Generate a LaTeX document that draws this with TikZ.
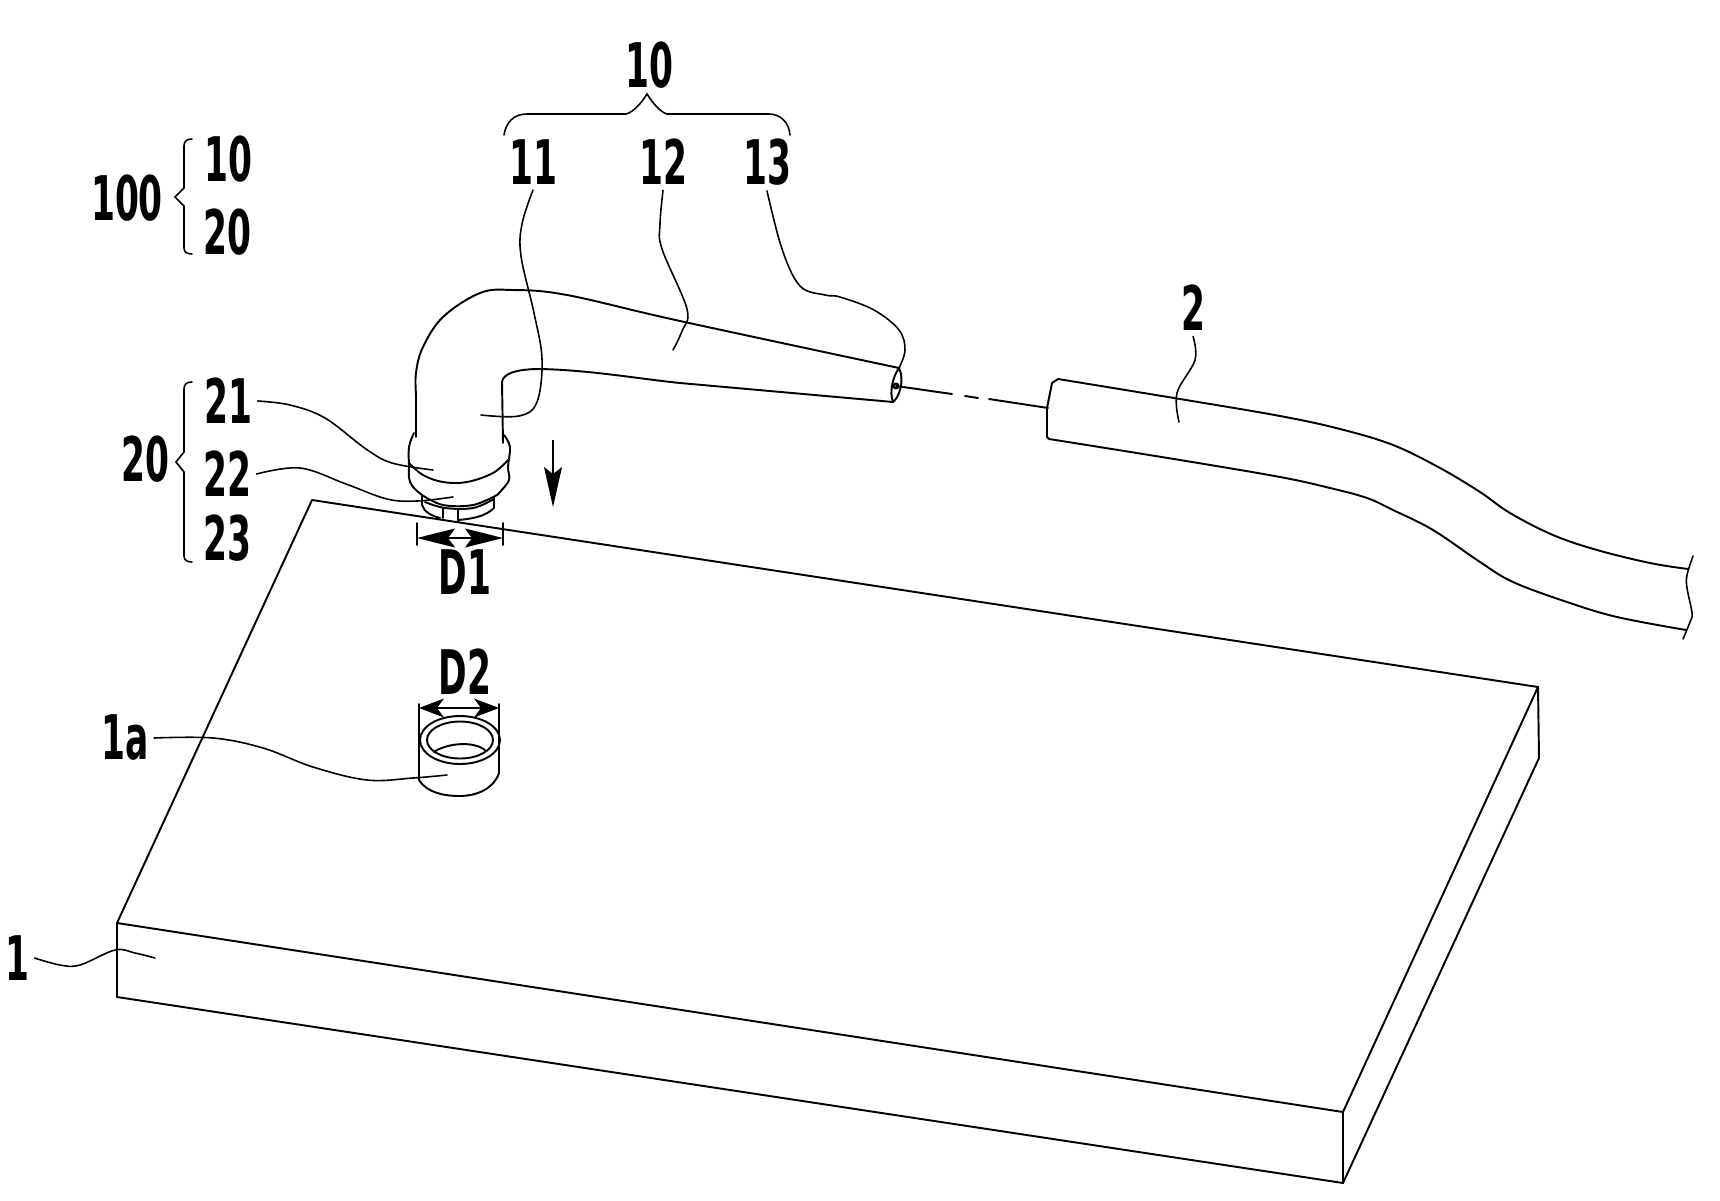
\documentclass[tikz,border=0pt]{standalone}
\usepackage{fontspec}
\setmainfont{DejaVu Sans}[FakeStretch=0.56]
\usetikzlibrary{arrows.meta}
\tikzset{
	part/.style={line width=1.1pt, line join=round, line cap=round},
	leader/.style={line width=0.9pt, line cap=round},
	partlabel/.style={inner sep=3pt, font=\fontsize{35}{35}\selectfont\bfseries},
	dimhead/.style={{Stealth[length=#1, width=0.38cm, inset=0.14cm]}-{Stealth[length=#1, width=0.38cm, inset=0.14cm]}, line width=0.9pt}
}
\newcommand{\drawleader}[2]{   % label node, points of the curve
	\draw[leader] plot[smooth, tension=0.6] coordinates {(#1) #2};
}
\begin{document}
\begin{tikzpicture}[x=0.02cm, y=-0.02cm]
\useasboundingbox (0, 0) rectangle (1720, 1200);

% labels
\node[partlabel] (topten) at (649, 65) {10};
\node[partlabel] (labeleleven) at (533, 162) {11};
\node[partlabel] (labeltwelve) at (663, 162) {12};
\node[partlabel] (labelthirteen) at (767, 162) {13};
\node[partlabel] (labelhundred) at (127, 198) {100};
\node[partlabel] (sideten) at (228, 159) {10};
\node[partlabel] (sidetwenty) at (227, 232) {20};
\node[partlabel] (grouptwenty) at (145, 459) {20};
\node[partlabel] (labeltwoone) at (228, 401) {21};
\node[partlabel] (labeltwotwo) at (227, 474) {22};
\node[partlabel] (labeltwothree) at (227, 538) {23};
\node[partlabel] (labeldone) at (465, 572) {D1};
\node[partlabel] (labeldtwo) at (465, 672) {D2};
\node[partlabel] (labelhole) at (125, 738) {1a};
\node[partlabel] (labelcable) at (1193, 308) {2};
\node[partlabel] (labelplate) at (17, 958) {1};

% plate
\draw[part] (312, 500) -- (1538, 687) -- (1343, 1112) -- (117, 923) -- cycle;
\draw[part] (117, 923) -- (117, 997) -- (1343, 1183) -- (1539, 758) -- (1538, 687);
\draw[part] (1343, 1112) -- (1343, 1183);

% hole
\draw[part] (460, 740) ellipse[x radius=40, y radius=24];
\draw[part] (460, 740) ellipse[x radius=33, y radius=18.5];
\draw[part] (434, 752) .. controls (445, 744) and (472, 740) .. (485, 750);
\draw[part] (419, 704) -- (419, 780) .. controls (427, 793) and (445, 796) .. (459, 796)
	.. controls (478, 796) and (494, 788) .. (499, 773) -- (499, 704);
\draw[dimhead=0.5cm] (419, 708) -- (499, 708);

% elbow
\draw[part] plot[smooth, tension=0.6] coordinates {(416, 437) (416, 400) (416, 373) (423, 347) (443, 317) (480, 293) (513, 290) (567, 295) (680, 321) (899, 368)};
\draw[part] (503, 443) -- (502, 382) .. controls (503, 374) and (515, 369) .. (540, 369)
	.. controls (590, 370) and (640, 379) .. (680, 383) -- (893, 402);
\draw[part] (899, 368) .. controls (905, 380) and (899, 398) .. (893, 402)
	.. controls (889, 392) and (893, 376) .. (899, 368);
\draw[part] (896, 386) circle[radius=2.5];

% collar
\draw[part] plot[smooth, tension=0.6] coordinates {(414, 433) (409, 447) (409, 467) (409, 478) (413, 487) (422, 495)};
\draw[part] plot[smooth, tension=0.6] coordinates {(504, 435) (510, 447) (508, 467) (509, 480) (500, 492) (497, 495)};
\draw[part] plot[smooth, tension=0.6] coordinates {(409, 463) (423, 475) (443, 482) (467, 482) (493, 473) (508, 460)};
\draw[part] plot[smooth, tension=0.6] coordinates {(422, 495) (443, 505) (473, 505) (497, 495)};
\draw[part] plot[smooth, tension=0.6] coordinates {(425, 502) (445, 508) (473, 508) (494, 499)};
\draw[part] (422, 495) -- (422, 505) .. controls (424, 512) and (432, 516) .. (440, 518);
\draw[part] (494, 497) -- (494, 508) .. controls (485, 517) and (470, 519) .. (458, 520);
\draw[part] (443, 508) -- (443, 518);
\draw[part] (458, 510) -- (458, 522);

% axis
\draw[part] (896, 386) -- (952, 394);
\draw[part] (965, 396) -- (978, 398);
\draw[part] (989, 399) -- (1048, 408);

% cable
\draw[part] (1058, 379) -- (1052, 383) -- (1047, 408) -- (1047, 437) -- (1049, 439);
\draw[part] plot[smooth, tension=0.6] coordinates {(1058, 379) (1180, 399) (1280, 416) (1340, 429) (1393, 445) (1440, 468) (1480, 492) (1510, 513) (1553, 535) (1597, 550) (1650, 563) (1688, 569)};
\draw[part] plot[smooth, tension=0.6] coordinates {(1049, 439) (1180, 460) (1280, 477) (1330, 488) (1367, 498) (1393, 510) (1433, 530) (1480, 562) (1513, 582) (1567, 602) (1617, 617) (1686, 630)};
\draw[leader] plot[smooth, tension=0.6] coordinates {(1693, 556) (1687, 575) (1687, 588) (1692, 613) (1690, 622) (1683, 639)};

% arrow and D1
\coordinate (arrowstart) at (553, 440);
\coordinate (arrowend) at (553, 507);
\draw[line width=0.9pt, -{Stealth[length=0.8cm, width=0.36cm, inset=0.14cm]}] (arrowstart) -- (arrowend);
\draw[part] (417, 523) -- (417, 545);
\draw[part] (503, 523) -- (503, 545);
\draw[dimhead=0.76cm] (417, 538) -- (503, 538);

% braces
\draw[leader] (504, 135) .. controls (506, 122) and (514, 114) .. (527, 114) -- (626, 114)
	.. controls (634, 112) and (642, 102) .. (647, 94) .. controls (652, 102) and (660, 112) .. (667, 114)
	-- (769, 114) .. controls (780, 114) and (789, 122) .. (790, 135);
\draw[leader] (192, 139) .. controls (187, 139) and (184, 141) .. (184, 146) -- (184, 188) -- (175, 197) -- (184, 206)
	-- (184, 248) .. controls (184, 252) and (187, 254) .. (192, 254);
\draw[leader] (192, 382) .. controls (187, 382) and (184, 384) .. (184, 389) -- (184, 452) -- (176, 462) -- (184, 472)
	-- (184, 556) .. controls (184, 560) and (187, 562) .. (192, 562);

% leaders
\coordinate (endeleven) at (481, 415);
\coordinate (endtwelve) at (673, 350);
\coordinate (endthirteen) at (899, 368);
\coordinate (endcable) at (1179, 422);
\coordinate (endtwoone) at (433, 470);
\coordinate (endtwotwo) at (453, 497);
\coordinate (endhole) at (447, 775);
\coordinate (endplate) at (155, 958);
\drawleader{labeleleven.south}{(522, 224) (521, 256) (534, 313) (542, 359) (537, 402) (519, 416) (endeleven)}
\drawleader{labeltwelve.south}{(660, 224) (662, 249) (687, 309) (682, 331) (endtwelve)}
\drawleader{labelthirteen.south}{(782, 249) (800, 286) (825, 295) (840, 297) (874, 310) (899, 330) (905, 350) (endthirteen)}
\drawleader{labelcable.south}{(1195, 360) (1177, 393) (endcable)}
\drawleader{labeltwoone.east}{(290, 405) (325, 418) (366, 449) (392, 463) (endtwoone)}
\drawleader{labeltwotwo.east}{(300, 468) (346, 484) (387, 499) (417, 501) (endtwotwo)}
\drawleader{labelhole.east}{(213, 738) (263, 748) (313, 767) (367, 780) (413, 778) (endhole)}
\drawleader{labelplate.east}{(60, 965) (80, 965) (115, 950) (135, 953) (endplate)}
\end{tikzpicture}
\end{document}
